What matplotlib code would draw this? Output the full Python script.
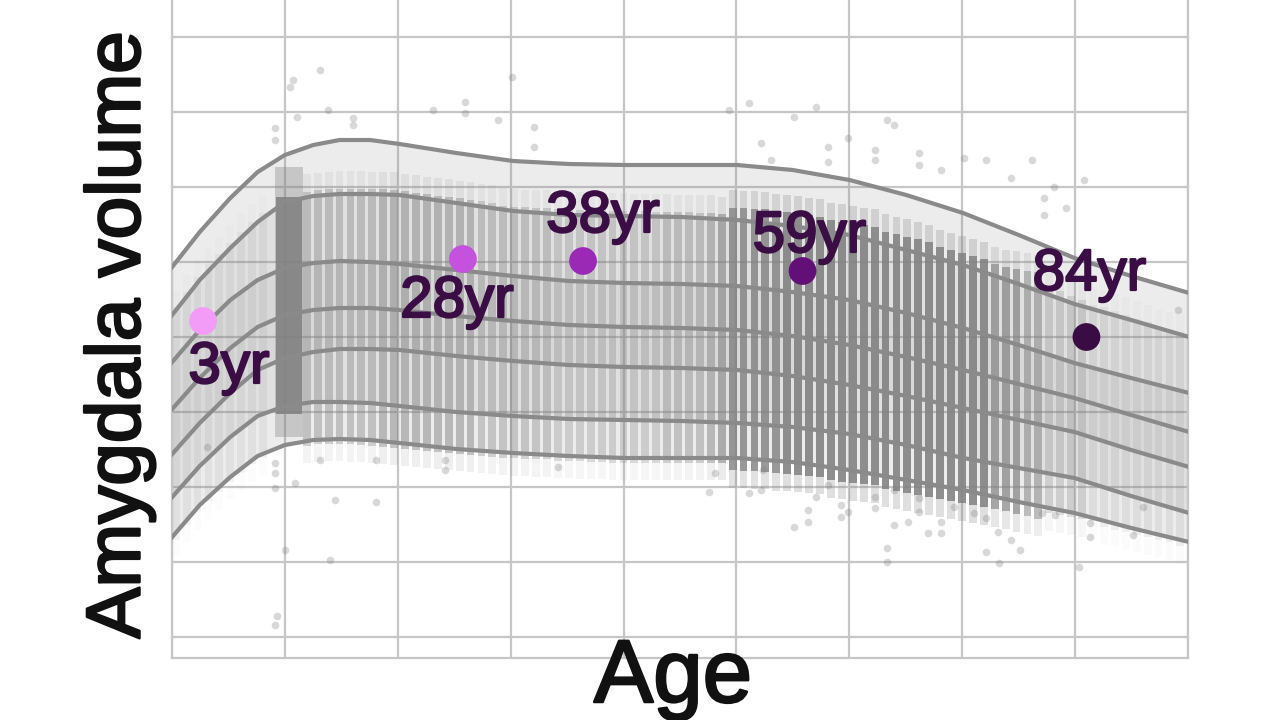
import matplotlib.pyplot as plt
import matplotlib.patheffects as pe
import numpy as np

ages = [0.6, 3.2, 6.0, 8.5, 11.0, 13.6, 16.0, 18.8, 21.5, 26.7, 31.9, 37.0,
        42.1, 47.3, 52.4, 57.5, 62.7, 67.9, 73.1, 78.2, 83.3, 88.5, 93.8]

# centile curves, amygdala volume (mm3), top to bottom
c_top = [1738, 1810, 1878, 1930, 1964, 1984, 1994, 1994, 1986, 1968, 1952, 1946,
         1944, 1944, 1944, 1934, 1914, 1884, 1848, 1804, 1758, 1722, 1688]
c_hi2 = [1642, 1714, 1778, 1830, 1870, 1882, 1886, 1886, 1884, 1868, 1852, 1844,
         1842, 1840, 1834, 1822, 1804, 1774, 1744, 1706, 1666, 1634, 1600]
c_hi1 = [1548, 1614, 1674, 1714, 1738, 1748, 1752, 1750, 1746, 1734, 1722, 1712,
         1708, 1706, 1702, 1690, 1674, 1648, 1618, 1584, 1548, 1518, 1488]
c_med = [1454, 1518, 1578, 1620, 1644, 1654, 1658, 1658, 1654, 1642, 1632, 1624,
         1620, 1618, 1614, 1602, 1584, 1560, 1534, 1506, 1478, 1444, 1410]
c_lo1 = [1364, 1428, 1488, 1534, 1558, 1570, 1576, 1576, 1574, 1562, 1552, 1544,
         1540, 1538, 1534, 1522, 1504, 1482, 1458, 1434, 1410, 1374, 1340]
c_lo2 = [1278, 1342, 1400, 1442, 1462, 1470, 1470, 1468, 1462, 1450, 1442, 1436,
         1434, 1432, 1428, 1420, 1406, 1384, 1358, 1338, 1318, 1282, 1248]
c_bot = [1198, 1264, 1320, 1362, 1384, 1394, 1396, 1394, 1388, 1376, 1368, 1362,
         1358, 1358, 1358, 1350, 1334, 1314, 1294, 1270, 1248, 1218, 1190]

# one-year cohorts of scanned subjects: age, volume range, density
cohort_age = list(range(1, 10)) + list(range(13, 94))
cohort_hi = [1660, 1690, 1720, 1745, 1765, 1788, 1810, 1830, 1848,
             1890, 1893, 1895, 1896, 1896, 1896, 1895, 1895, 1894, 1891,
             1888, 1885, 1882, 1880, 1877, 1874, 1871, 1868, 1862, 1860,
             1859, 1858, 1858, 1855, 1855, 1854, 1853, 1853, 1852, 1852,
             1851, 1851, 1850, 1850, 1849, 1849, 1848, 1848, 1845, 1858,
             1857, 1856, 1855, 1851, 1849, 1846, 1843, 1840, 1833, 1830,
             1826, 1823, 1820, 1810, 1805, 1800, 1795, 1790, 1780, 1774,
             1768, 1762, 1755, 1745, 1740, 1737, 1733, 1730, 1700, 1692,
             1683, 1674, 1665, 1660, 1652, 1645, 1637, 1630, 1620, 1615, 1610]
cohort_lo = [1195, 1225, 1250, 1272, 1290, 1310, 1328, 1345, 1358,
             1382, 1385, 1386, 1386, 1385, 1384, 1382, 1380, 1378, 1376,
             1374, 1372, 1370, 1368, 1366, 1364, 1362, 1360, 1358, 1357,
             1356, 1355, 1355, 1352, 1352, 1351, 1350, 1350, 1348, 1348,
             1348, 1348, 1348, 1348, 1348, 1348, 1348, 1348, 1348, 1333,
             1332, 1331, 1330, 1327, 1326, 1324, 1322, 1320, 1313, 1310,
             1307, 1305, 1303, 1295, 1291, 1287, 1284, 1280, 1275, 1272,
             1268, 1264, 1260, 1255, 1251, 1246, 1242, 1237, 1248, 1244,
             1240, 1236, 1232, 1220, 1215, 1210, 1205, 1200, 1195, 1190, 1182]
cohort_density = [0.08] * 9 + [0.32] * 7 + [0.4] * 9 + [0.3] * 7 + [0.24] * 10 \
    + [0.32] * 4 + [0.4, 0.52] + [0.74] * 5 + [0.84] * 19 + [0.62] * 3 \
    + [0.45] * 2 + [0.22] * 4 + [0.1] * 9

# the big childhood cohort around 11 years
child_age = 11.4
child_range = (1400, 1940)
child_core = (1445, 1880)

# scattered single subjects outside the bulk
out_age = [14.2, 11.7, 11.5, 10.1, 10.1, 14.9, 12.1, 17.2, 17.2, 24.6, 27.5, 27.5,
           30.5, 31.8, 33.8, 33.8, 53.5, 51.7, 59.6, 57.6, 54.6, 55.5, 60.7, 60.7,
           62.6, 66.1, 66.8, 65.0, 65.0, 69.1, 69.1, 71.1, 73.2, 75.2, 77.5, 79.4,
           81.4, 84.2, 80.5, 82.5, 80.5, 92.8,
           50.4, 49.8, 53.5, 54.6, 54.8, 57.6, 58.9, 58.9, 59.6, 60.7, 61.9, 61.9,
           62.6, 65.0, 65.0, 66.1, 66.1, 66.8, 66.8, 68.1, 69.1, 69.1, 69.9, 71.1,
           71.1, 72.3, 74.1, 75.2, 75.2, 76.3, 76.4, 77.5, 78.3, 80.3, 81.5, 83.7,
           84.7, 84.7, 88.7, 89.6,
           10.1, 10.1, 11.9, 10.1, 15.6, 19.3, 14.2, 19.3, 25.7, 11.0, 15.1, 10.1,
           10.3, 3.9, 36.0, 25.7]
out_vol = [2134, 2114, 2100, 2018, 1994, 2054, 2040, 2038, 2024, 2054, 2070, 2048,
           2034, 2120, 2020, 1980, 2068, 2054, 2060, 2040, 1988, 1954, 1980, 1950,
           1998, 2034, 2024, 1974, 1954, 1968, 1944, 1934, 1958, 1954, 1918, 1954,
           1900, 1914, 1878, 1858, 1844, 1654,
           1328, 1290, 1288, 1294, 1334, 1220, 1230, 1254, 1280, 1304, 1264, 1240,
           1250, 1280, 1258, 1178, 1150, 1294, 1224, 1230, 1250, 1278, 1208, 1208,
           1230, 1260, 1248, 1238, 1170, 1210, 1148, 1194, 1174, 1248, 1244, 1140,
           1200, 1228, 1204, 1260,
           1348, 1328, 1308, 1298, 1274, 1270, 1354, 1354, 1354, 1174, 1154, 1024,
           1042, 1380, 1340, 1334]

# highlighted individual
hl_age = [3.5, 27.3, 38.3, 58.4, 84.4]
hl_vol = [1632, 1756, 1752, 1732, 1600]
hl_label = ['3yr', '28yr', '38yr', '59yr', '84yr']
hl_color = ['#f29bf7', '#c452dc', '#9a2ab6', '#620f78', '#3a0c44']
label_offset = [(26, -62), (-6, -58), (20, 29), (7, 19), (3, 47)]

plt.rcParams['font.family'] = ['Liberation Sans', 'DejaVu Sans']

fig = plt.figure(figsize=(12.8, 7.2), dpi=100)
ax = fig.add_axes([172 / 1280, 62 / 720, 1016 / 1280, 658 / 720])
ax.set_xlim(0.66, 93.7)
ax.set_ylim(958, 2274)

grey = '#808080'
ax.fill_between(ages, c_bot, c_top, color=grey, alpha=0.15, lw=0, zorder=1)
ax.fill_between(ages, c_lo2, c_hi2, color=grey, alpha=0.10, lw=0, zorder=1)
ax.fill_between(ages, c_lo1, c_hi1, color=grey, alpha=0.08, lw=0, zorder=1)

lo = np.array(cohort_lo)
hi = np.array(cohort_hi)
dens = np.array(cohort_density)
# faint fringe of each cohort, then its bulk
fringe = [(0.5, 0.5, 0.5, a * 0.3) for a in dens]
cols = [(0.5, 0.5, 0.5, a) for a in dens]
ax.bar(cohort_age, hi - lo + 70, bottom=lo - 35, width=0.72, color=fringe, lw=0, zorder=2)
ax.bar(cohort_age, hi - lo, bottom=lo, width=0.72, color=cols, lw=0, zorder=2)
ax.bar([child_age], [child_range[1] - child_range[0]], bottom=child_range[0],
       width=2.6, color=grey, alpha=0.35, lw=0, zorder=2)
ax.bar([child_age], [child_core[1] - child_core[0]], bottom=child_core[0],
       width=2.4, color=grey, alpha=0.85, lw=0, zorder=2)

ax.scatter(out_age, out_vol, s=30, color=grey, alpha=0.3, lw=0, zorder=2)

for c in [c_top, c_hi2, c_hi1, c_med, c_lo1, c_lo2, c_bot]:
    ax.plot(ages, c, color='#8a8a8a', lw=3, zorder=3)

ax.scatter(hl_age, hl_vol, s=400, c=hl_color, lw=0, zorder=5)
bold = [pe.withStroke(linewidth=1.6, foreground='#3b0d45')]
for x, y, t, off in zip(hl_age, hl_vol, hl_label, label_offset):
    ax.annotate(t, (x, y), xytext=off, textcoords='offset pixels', ha='center',
                va='baseline', fontsize=42, color='#3b0d45', zorder=6,
                path_effects=bold)

ax.set_xticks(np.linspace(0.66, 93.7, 10))
ax.set_yticks(np.arange(1000, 2201, 150))
ax.tick_params(length=0, labelbottom=False, labelleft=False)
ax.grid(True, color='#c6c6c6', lw=1.6)
ax.set_axisbelow(True)
for s in ['left', 'bottom', 'right']:
    ax.spines[s].set_color('#c6c6c6')
    ax.spines[s].set_linewidth(1.6)
ax.spines['top'].set_visible(False)

dark = [pe.withStroke(linewidth=1.8, foreground='#111111')]
fig.text(120 / 1280, 0.535, 'Amygdala volume', rotation=90, ha='center',
         va='center', fontsize=55, color='#111111', path_effects=dark)
fig.text(673 / 1280, 18 / 720, 'Age', ha='center', va='baseline',
         fontsize=64, color='#111111', path_effects=dark)

fig.savefig('out.png', dpi=100)
